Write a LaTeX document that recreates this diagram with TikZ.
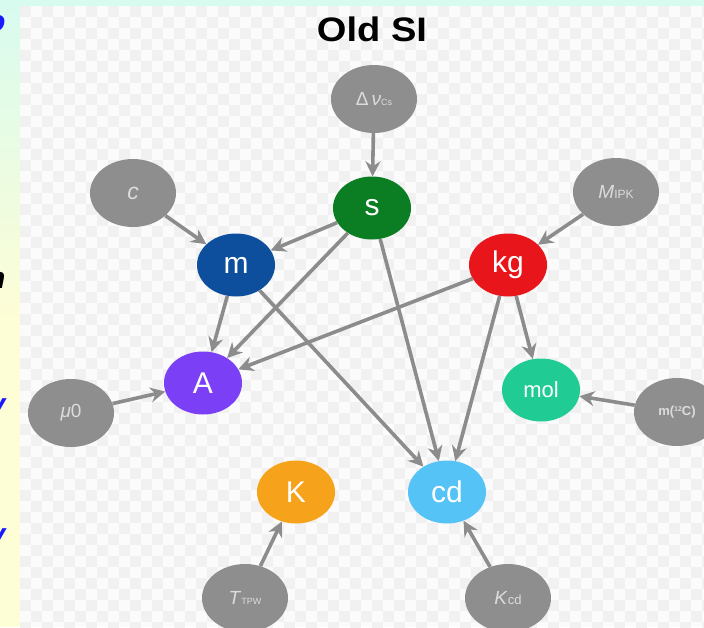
\documentclass[tikz,border=0pt]{standalone}
\usepackage{fontspec}
\setmainfont{Liberation Sans}
\usetikzlibrary{shapes.geometric,arrows.meta}

\definecolor{unitS}{HTML}{0B7D22}
\definecolor{unitM}{HTML}{0D4F9C}
\definecolor{unitKG}{HTML}{E8151B}
\definecolor{unitA}{HTML}{7B3FF5}
\definecolor{unitMOL}{HTML}{20CC94}
\definecolor{unitK}{HTML}{F7A21B}
\definecolor{unitCD}{HTML}{55C3F5}
\definecolor{constgray}{HTML}{8E8E8E}
\definecolor{linkgray}{HTML}{8C8C8C}
\definecolor{constlabel}{HTML}{DCDCDC}
\definecolor{mint}{HTML}{D8FBEF}
\definecolor{paleyellow}{HTML}{FDFDD6}
\definecolor{checkA}{HTML}{FBFBFB}
\definecolor{checkB}{HTML}{F1F1F1}
\definecolor{fragblue}{HTML}{1A1AFF}

\tikzset{
  unit/.style={ellipse, minimum width=78pt, minimum height=63pt, inner sep=0pt,
    text=white, font=\fontsize{30}{30}\selectfont},
  const/.style={ellipse, fill=constgray, minimum width=86pt, minimum height=68pt,
    inner sep=0pt, text=constlabel, font=\fontsize{19}{19}\selectfont},
  link/.style={draw=linkgray, line width=3.6pt,
    -{Stealth[length=15pt,width=15pt,inset=5pt]}},
  frag/.style={font=\fontsize{30}{30}\selectfont\itshape\bfseries, anchor=east}
}

\begin{document}
\begin{tikzpicture}[x=1pt,y=-1pt]
  \useasboundingbox (0,0) rectangle (704,627);
  \clip (0,0) rectangle (704,627);

  % faint checkerboard backdrop
  \fill[checkA] (0,0) rectangle (704,627);
  \foreach \i in {0,...,63} {
    \foreach \j in {0,...,57} {
      \ifodd\numexpr\i+\j\relax\else
        \fill[checkB] ({20+11*\i},{6+11*\j}) rectangle ++(11,11);
      \fi
    }
  }

  % slide strips along the top and the left edge
  \fill[mint] (0,0) rectangle (704,6);
  \shade[top color=mint, bottom color=paleyellow] (0,0) rectangle (20,320);
  \fill[paleyellow] (0,319) rectangle (20,627);

  % clipped letters of the neighbouring slide text
  \begin{scope}
    \clip (0,0) rectangle (7,627);
    \node[frag, text=fragblue] (fo) at (9,24) {o};
    \node[frag, text=black] (fn) at (9,280) {n};
    \node[frag, text=fragblue] (fy1) at (9,410) {y};
    \node[frag, text=fragblue] (fy2) at (9,540) {y};
  \end{scope}

  % title
  \node[font=\fontsize{34}{34}\selectfont\bfseries, xscale=1.12] (title) at (372,29) {Old SI};

  % base units
  \node[unit, fill=unitS]   (s)   at (372,208) {s};
  \node[unit, fill=unitM]   (m)   at (236,265) {m};
  \node[unit, fill=unitKG]  (kg)  at (508,265) {kg};
  \node[unit, fill=unitA]   (A)   at (203,383) {A};
  \node[unit, fill=unitMOL, font=\fontsize{22}{22}\selectfont] (mol) at (541,390) {mol};
  \node[unit, fill=unitK]   (K)   at (296,492) {K};
  \node[unit, fill=unitCD]  (cd)  at (447,492) {cd};

  % defining constants
  \node[const] (nu)  at (374,99)  {Δ\,\textit{ν}{\fontsize{9}{9}\selectfont Cs}};
  \node[const, font=\fontsize{23}{23}\selectfont] (c) at (133,193) {\textit{c}};
  \node[const] (mipk) at (616,192) {\textit{M}{\fontsize{12}{12}\selectfont IPK}};
  \node[const] (mu0) at (71,413) {\textit{μ}0};
  \node[const, font=\fontsize{13}{13}\selectfont\bfseries] (mc) at (677,412)
    {m(\raisebox{4pt}{\fontsize{7}{7}\selectfont 12}C)};
  \node[const] (ttpw) at (245,598) {\textit{T}{\fontsize{9}{9}\selectfont TPW}};
  \node[const] (kcd) at (508,598) {\textit{K}{\fontsize{13}{13}\selectfont cd}};

  % dependencies
  \draw[link] (nu) -- (s);
  \draw[link] (c) -- (m);
  \draw[link] (mipk) -- (kg);
  \draw[link] (s) -- (m);
  \draw[link] (s) -- (A);
  \draw[link] (s) -- (cd);
  \draw[link] (m) -- (A);
  \draw[link] (m) -- (cd);
  \draw[link] (kg) -- (A);
  \draw[link] (kg) -- (mol);
  \draw[link] (kg) -- (cd);
  \draw[link] (mu0) -- (A);
  \draw[link] (mc) -- (mol);
  \draw[link] (ttpw) -- (K);
  \draw[link] (kcd) -- (cd);
\end{tikzpicture}
\end{document}
